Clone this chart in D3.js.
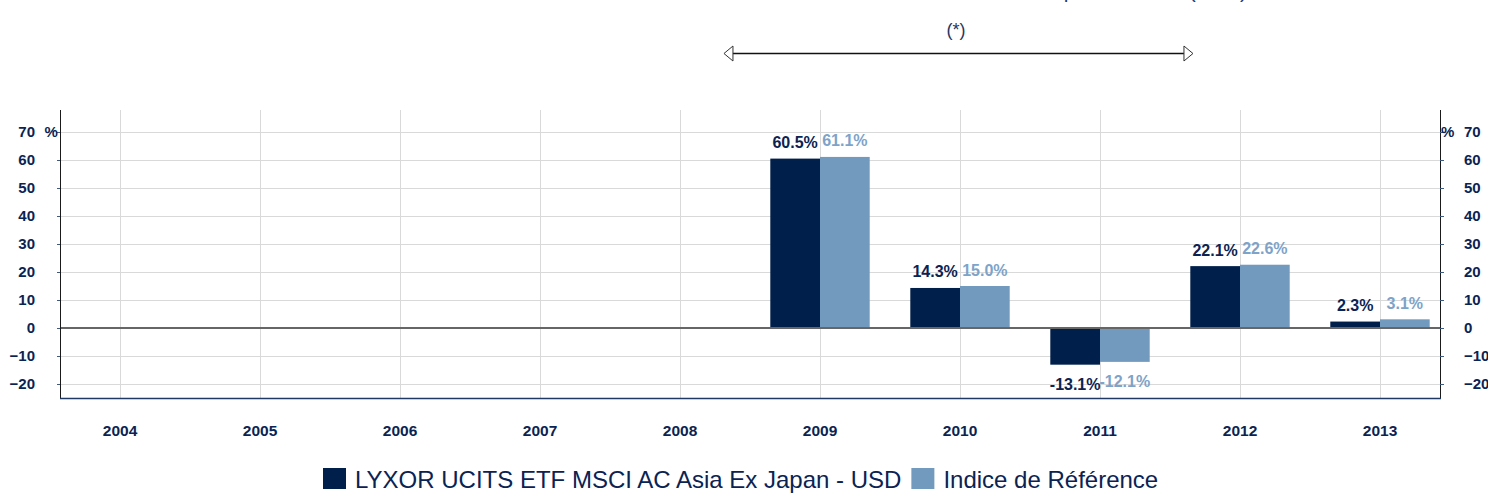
<!DOCTYPE html>
<html>
<head>
<meta charset="utf-8">
<script src="https://cdn.jsdelivr.net/npm/d3@7"></script>
<style>
  html, body { margin: 0; padding: 0; background: #ffffff; }
  svg { display: block; }
  text { font-family: "Liberation Sans", Arial, sans-serif; }
</style>
</head>
<body>
<svg id="chart" width="1488" height="496"></svg>
<script>
// ---- data ----
const years = ["2004","2005","2006","2007","2008","2009","2010","2011","2012","2013"];
const fundValues = [null, null, null, null, null, 60.5, 14.3, -13.1, 22.1, 2.3];
const indexValues = [null, null, null, null, null, 61.1, 15.0, -12.1, 22.6, 3.1];
const seriesNames = ["LYXOR UCITS ETF MSCI AC Asia Ex Japan - USD", "Indice de Référence"];
const yTicks = [-20, -10, 0, 10, 20, 30, 40, 50, 60, 70];
const titleText = "Performances calendaires depuis création (USD)";
const noteText = "(*)";
const arrowYears = ["2008", "2012"];

// ---- styles ----
const navy = "#0b2352";
const darkBar = "#001f4b";
const lightBar = "#729abe";
const lightLabel = "#7da3c9";

const svg = d3.select("#chart");
svg.append("rect").attr("width", 1488).attr("height", 496).attr("fill", "#fff");

const x = d3.scaleBand().domain(years).range([50, 1450]).paddingInner(0).paddingOuter(0);
const y = d3.scaleLinear().domain([-25, 77.86]).range([398, 110]);
const plotLeft = 60, plotRight = 1440;

// horizontal grid
svg.append("g").selectAll("line").data(yTicks).join("line")
  .attr("x1", plotLeft).attr("x2", plotRight)
  .attr("y1", d => Math.round(y(d)) + 0.5).attr("y2", d => Math.round(y(d)) + 0.5)
  .attr("stroke", "#d9d9d9").attr("stroke-width", 1);

// vertical grid at category centers
svg.append("g").selectAll("line").data(years).join("line")
  .attr("x1", d => x(d) + x.bandwidth() / 2 + 0.5).attr("x2", d => x(d) + x.bandwidth() / 2 + 0.5)
  .attr("y1", y.range()[1]).attr("y2", y.range()[0])
  .attr("stroke", "#d9d9d9").attr("stroke-width", 1);

// bars
const bw = x.bandwidth() * 0.355;
const series = [
  { name: seriesNames[0], values: fundValues, color: darkBar, label: navy, off: -1 },
  { name: seriesNames[1], values: indexValues, color: lightBar, label: lightLabel, off: 0 }
];
series.forEach(s => {
  const data = years.map((yr, i) => ({ yr, v: s.values[i] })).filter(d => d.v !== null);
  svg.append("g").selectAll("rect").data(data).join("rect")
    .attr("x", d => x(d.yr) + x.bandwidth() / 2 + s.off * bw)
    .attr("width", bw)
    .attr("y", d => y(Math.max(0, d.v)))
    .attr("height", d => Math.abs(y(d.v) - y(0)))
    .attr("fill", s.color);
  svg.append("g").selectAll("text").data(data).join("text")
    .attr("x", d => x(d.yr) + x.bandwidth() / 2 + s.off * bw + bw / 2)
    .attr("y", d => d.v >= 0 ? y(d.v) - 10.5 : y(d.v) + 25)
    .attr("text-anchor", "middle")
    .attr("font-size", 16).attr("font-weight", "bold")
    .attr("fill", s.label)
    .text(d => d.v.toFixed(1) + "%");
});

// zero line
svg.append("line").attr("x1", plotLeft).attr("x2", plotRight)
  .attr("y1", y(0)).attr("y2", y(0))
  .attr("stroke", "#666666").attr("stroke-width", 2);

// axes lines
svg.append("line").attr("x1", plotLeft + 0.5).attr("x2", plotLeft + 0.5)
  .attr("y1", y.range()[1]).attr("y2", y.range()[0] + 1).attr("stroke", "#1a1a1a");
svg.append("line").attr("x1", plotRight + 0.5).attr("x2", plotRight + 0.5)
  .attr("y1", y.range()[1]).attr("y2", y.range()[0] + 1).attr("stroke", "#1a1a1a");
svg.append("line").attr("x1", plotLeft).attr("x2", plotRight + 1)
  .attr("y1", y.range()[0] + 0.5).attr("y2", y.range()[0] + 0.5)
  .attr("stroke", "#1f3864").attr("stroke-width", 1.5);

// left axis
const leftAxis = svg.append("g").attr("transform", `translate(${plotLeft},0)`)
  .call(d3.axisLeft(y).tickValues(yTicks).tickSize(3).tickPadding(22).tickFormat(d3.format("d")));
leftAxis.select(".domain").remove();
leftAxis.selectAll(".tick line").attr("stroke", "#3d5a80");
leftAxis.selectAll(".tick text").attr("font-size", 15).attr("font-weight", "bold")
  .attr("fill", navy).attr("font-family", "'Liberation Sans', Arial, sans-serif");

// right axis
const rightAxis = svg.append("g").attr("transform", `translate(${plotRight},0)`)
  .call(d3.axisRight(y).tickValues(yTicks).tickSize(4).tickPadding(20).tickFormat(d3.format("d")));
rightAxis.select(".domain").remove();
rightAxis.selectAll(".tick line").attr("stroke", "#3d5a80");
rightAxis.selectAll(".tick text").attr("font-size", 15).attr("font-weight", "bold")
  .attr("fill", navy).attr("font-family", "'Liberation Sans', Arial, sans-serif");

// percent signs
svg.append("text").attr("x", 44.5).attr("y", y(70)).attr("dy", "0.35em")
  .attr("font-size", 15).attr("font-weight", "bold").attr("fill", navy).text("%");
svg.append("text").attr("x", 1441).attr("y", y(70)).attr("dy", "0.35em")
  .attr("font-size", 15).attr("font-weight", "bold").attr("fill", navy).text("%");

// x axis labels
const xAxis = svg.append("g").attr("transform", `translate(0,${y.range()[0]})`)
  .call(d3.axisBottom(x).tickSize(0).tickPadding(27));
xAxis.select(".domain").remove();
xAxis.selectAll(".tick text").attr("font-size", 15.5).attr("font-weight", "bold")
  .attr("fill", navy).attr("font-family", "'Liberation Sans', Arial, sans-serif");

// top title (mostly cut off, as in the original)
svg.append("text").attr("x", 1247).attr("y", -2).attr("text-anchor", "end")
  .attr("font-size", 21).attr("fill", "#1f3f7a")
  .text(titleText);

// note
svg.append("text").attr("x", 956).attr("y", 36).attr("text-anchor", "middle")
  .attr("font-size", 18).attr("fill", "#1f3864")
  .attr("font-family", "'Open Sans', 'Liberation Sans', sans-serif")
  .text(noteText);

// arrow spanning the period
const ax1 = x(arrowYears[0]) + x.bandwidth() * 0.814;
const ax2 = x(arrowYears[1]) + x.bandwidth() * 0.164;
const ay = 53.5;
svg.append("line").attr("x1", ax1 + 8).attr("x2", ax2 - 8).attr("y1", ay).attr("y2", ay)
  .attr("stroke", "#111").attr("stroke-width", 1.5);
svg.append("path").attr("d", `M${ax1},${ay} L${ax1 + 9},${ay - 7.5} L${ax1 + 9},${ay + 7.5} Z`)
  .attr("fill", "#fff").attr("stroke", "#333").attr("stroke-width", 1);
svg.append("path").attr("d", `M${ax2},${ay} L${ax2 - 9},${ay - 7.5} L${ax2 - 9},${ay + 7.5} Z`)
  .attr("fill", "#fff").attr("stroke", "#333").attr("stroke-width", 1);

// legend
const leg = svg.append("g");
let lx = 323;
series.forEach((s, i) => {
  leg.append("rect").attr("x", lx).attr("y", 468).attr("width", 23).attr("height", 21).attr("fill", s.color);
  const t = leg.append("text").attr("x", lx + 32).attr("y", 487.5)
    .attr("font-size", 24).attr("fill", navy).text(s.name);
  lx = lx + 32 + t.node().getComputedTextLength() + 10;
});
</script>
</body>
</html>
